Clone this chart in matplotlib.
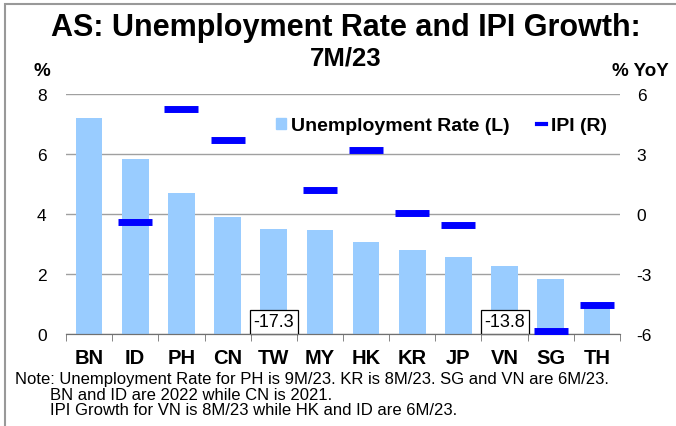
import matplotlib
matplotlib.use("Agg")
import matplotlib.pyplot as plt
from matplotlib.patches import Rectangle, Patch
from matplotlib.lines import Line2D

plt.rcParams['font.family'] = ['Liberation Sans', 'DejaVu Sans']
plt.rcParams['axes.unicode_minus'] = False

countries = ["BN", "ID", "PH", "CN", "TW", "MY", "HK", "KR", "JP", "VN", "SG", "TH"]
unemp = [7.2, 5.84, 4.69, 3.91, 3.52, 3.48, 3.07, 2.8, 2.59, 2.27, 1.84, 0.9]
# None = no data; values outside -6..6 get a boxed label instead of a dash
ipi = [None, -0.37, 5.24, 3.69, -17.3, 1.21, 3.18, 0.06, -0.53, -13.8, -5.84, -4.54]
left_ticks = [0, 2, 4, 6, 8]
right_ticks = [-6, -3, 0, 3, 6]

BAR_C = "#99ccff"
IPI_C = "#0000ff"

fig = plt.figure(figsize=(6.76, 4.27), dpi=100)
ax = fig.add_axes([66/676, 1-335.3/427, 554/676, 240.3/427])
ax2 = ax.twinx()

x = list(range(len(countries)))
ax.bar(x, unemp, width=0.58, color=BAR_C, zorder=2)

xi = [i for i, v in zip(x, ipi) if v is not None and -6 <= v <= 6]
yi = [v for v in ipi if v is not None and -6 <= v <= 6]
ax2.plot(xi, yi, ls="none", marker="_", ms=25, mew=5.0, color=IPI_C, zorder=3)

for i, v in zip(x, ipi):
    if v is not None and not (-6 <= v <= 6):
        ax.text(i, 0.13, f"{v:.1f}", ha="center", va="bottom", fontsize=13, zorder=4,
                bbox=dict(boxstyle="square,pad=0.2", fc="white", ec="black", lw=0.9))

ax.set_xlim(-0.5, len(countries) - 0.5)
ax.set_ylim(0, 8)
ax2.set_ylim(-6, 6)
ax.set_yticks(left_ticks)
ax2.set_yticks(right_ticks)
ax.yaxis.grid(True, color="#a0a0a0", lw=1, zorder=0)
ax.set_axisbelow(True)

ax.set_xticks(x)
ax.set_xticklabels(countries, fontsize=14.5, fontweight="bold")
ax.set_xticks([i + 0.5 for i in range(-1, len(countries))], minor=True)
ax.tick_params(axis="x", which="major", length=0, pad=10)
ax.tick_params(axis="x", which="minor", length=5, color="#707070", direction="out")
ax.tick_params(axis="y", length=0, pad=14, labelsize=12.5)
ax2.tick_params(axis="y", length=0, pad=12, labelsize=12.5)

for a in (ax, ax2):
    for s in ("top", "left", "right"):
        a.spines[s].set_visible(False)
    a.spines["bottom"].set_color("#707070")

handles = [Patch(color=BAR_C, label="Unemployment Rate (L)"),
           Line2D([], [], color=IPI_C, lw=3, label="IPI (R)")]
ax2.legend(handles=handles, loc="center", bbox_to_anchor=(0.678, 0.867), ncol=2,
           frameon=False, prop=dict(size=14, weight="bold"), handlelength=0.5,
           handleheight=0.5, handletextpad=0.25, columnspacing=1.4)

fig.text(346/676, 1-28/427, "AS: Unemployment Rate and IPI Growth:", ha="center", va="center",
         fontsize=22, fontweight="bold")
fig.text(346/676, 1-58/427, "7M/23", ha="center", va="center", fontsize=18.5, fontweight="bold")
fig.text(41.5/676, 1-71/427, "%", ha="center", va="center", fontsize=13.5, fontweight="bold")
fig.text(640/676, 1-71/427, "% YoY", ha="center", va="center", fontsize=13.5, fontweight="bold")

notes = ["Note: Unemployment Rate for PH is 9M/23. KR is 8M/23. SG and VN are 6M/23.",
         "BN and ID are 2022 while CN is 2021.",
         "IPI Growth for VN is 8M/23 while HK and ID are 6M/23."]
fig.text(15/676, 1-380/427, notes[0], ha="left", va="center", fontsize=12)
fig.text(50/676, 1-396/427, notes[1], ha="left", va="center", fontsize=12)
fig.text(50/676, 1-411/427, notes[2], ha="left", va="center", fontsize=12)

fig.patches.append(Rectangle((4.5/676, -0.1), 1.1, 1.1 - 5.5/427, transform=fig.transFigure,
                             fill=False, ec="#999999", lw=1.5))

fig.savefig("out.png", dpi=100)
